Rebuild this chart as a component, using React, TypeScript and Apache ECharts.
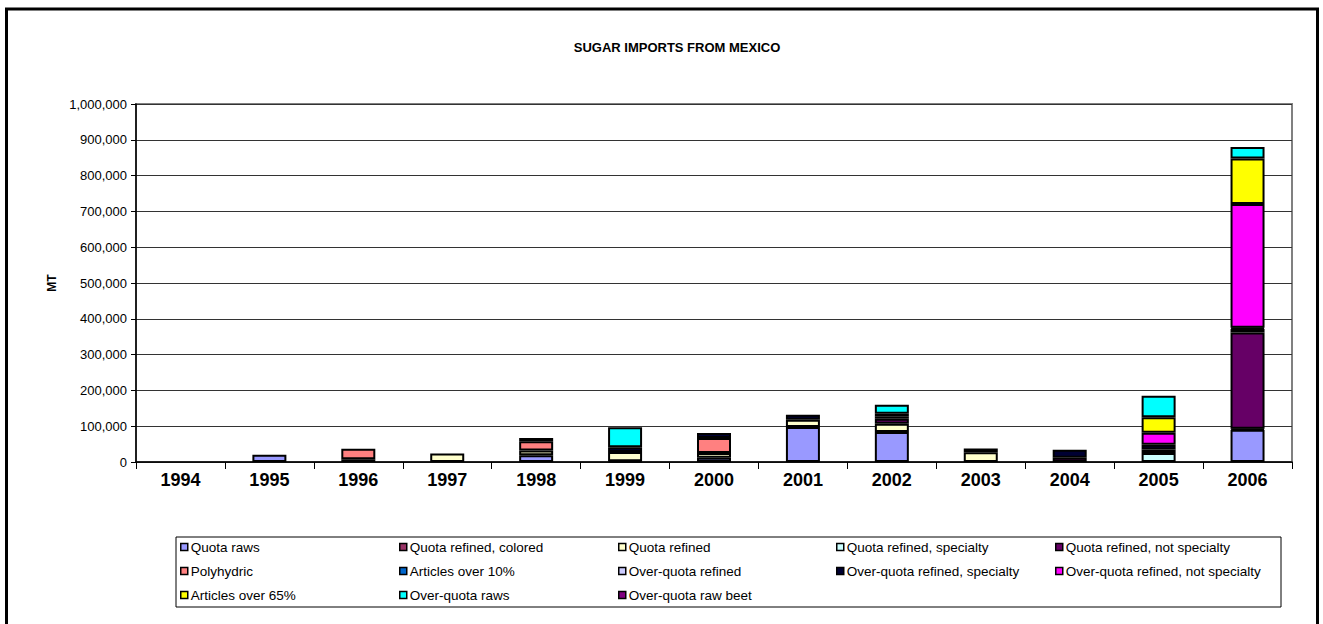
import React, { useEffect, useRef } from "react";
import * as echarts from "echarts";

const years = ["1994", "1995", "1996", "1997", "1998", "1999", "2000", "2001", "2002", "2003", "2004", "2005", "2006"];

const quotaRaws = [0, 20000, 0, 0, 19000, 2000, 12000, 98000, 84000, 0, 0, 0, 90000];
const quotaRefinedColored = [0, 0, 0, 0, 0, 0, 0, 0, 0, 0, 0, 0, 0];
const quotaRefined = [0, 0, 8000, 24000, 13000, 26000, 13000, 20000, 23000, 27000, 0, 0, 3000];
const quotaRefinedSpecialty = [0, 0, 0, 0, 0, 0, 0, 0, 0, 0, 0, 25000, 0];
const quotaRefinedNotSpecialty = [0, 0, 0, 0, 0, 0, 0, 0, 14000, 0, 12000, 10000, 269000];
const polyhydric = [0, 0, 29000, 0, 26000, 0, 42000, 0, 0, 0, 0, 0, 0];
const articlesOver10 = [0, 0, 0, 0, 0, 0, 0, 0, 0, 0, 0, 0, 10000];
const overQuotaRefined = [0, 0, 0, 0, 0, 0, 0, 0, 7000, 0, 0, 0, 0];
const overQuotaRefinedSpecialty = [0, 0, 0, 0, 9000, 13000, 14000, 14000, 7000, 11000, 22000, 13000, 3000];
const overQuotaRefinedNotSpecialty = [0, 0, 0, 0, 0, 0, 0, 0, 0, 0, 0, 34000, 346000];
const articlesOver65 = [0, 0, 0, 0, 0, 0, 0, 0, 0, 0, 0, 43000, 127000];
const overQuotaRaws = [0, 0, 0, 0, 0, 56000, 0, 0, 25000, 0, 0, 60000, 32000];
const overQuotaRawBeet = [0, 0, 0, 0, 0, 0, 0, 0, 0, 0, 0, 0, 0];

const seriesNames = [
  "Quota raws",
  "Quota refined, colored",
  "Quota refined",
  "Quota refined, specialty",
  "Quota refined, not specialty",
  "Polyhydric",
  "Articles over 10%",
  "Over-quota refined",
  "Over-quota refined, specialty",
  "Over-quota refined, not specialty",
  "Articles over 65%",
  "Over-quota raws",
  "Over-quota raw beet",
];
const seriesData = [
  quotaRaws,
  quotaRefinedColored,
  quotaRefined,
  quotaRefinedSpecialty,
  quotaRefinedNotSpecialty,
  polyhydric,
  articlesOver10,
  overQuotaRefined,
  overQuotaRefinedSpecialty,
  overQuotaRefinedNotSpecialty,
  articlesOver65,
  overQuotaRaws,
  overQuotaRawBeet,
];
const seriesColors = [
  "#9999FF",
  "#993366",
  "#FFFFCC",
  "#CCFFFF",
  "#660066",
  "#FF8080",
  "#0066CC",
  "#CCCCFF",
  "#000033",
  "#FF00FF",
  "#FFFF00",
  "#00FFFF",
  "#800080",
];

const legendColumns = [
  [0, 5, 10],
  [1, 6, 11],
  [2, 7, 12],
  [3, 8],
  [4, 9],
];
const legendColumnX = [180, 399, 618, 836, 1055];

const FONT = "Arial, 'Liberation Sans', sans-serif";

export default function App() {
  const ref = useRef<HTMLDivElement>(null);
  useEffect(() => {
    document.body.style.margin = "0";
    if (!ref.current) return;
    const chart = echarts.init(ref.current, null, { renderer: "svg" });
    const option: any = {
      animation: false,
      backgroundColor: "#ffffff",
      title: {
        text: "SUGAR IMPORTS FROM MEXICO",
        left: 672,
        textAlign: "center",
        top: 36,
        textStyle: { fontFamily: FONT, fontSize: 13, fontWeight: "bold", color: "#000" },
      },
      grid: {
        left: 136,
        right: 31,
        top: 104,
        bottom: 162,
        show: true,
        borderColor: "#808080",
        borderWidth: 2,
        backgroundColor: "#ffffff",
      },
      legend: legendColumns.map((col, i) => ({
        orient: "vertical",
        left: legendColumnX[i],
        top: 540,
        itemGap: 10,
        itemWidth: 7,
        itemHeight: 7,
        icon: "rect",
        padding: 0,
        selectedMode: false,
        data: col.map((k) => seriesNames[k]),
        itemStyle: { borderColor: "#000", borderWidth: 1.5 },
        textStyle: { fontFamily: FONT, fontSize: 13.5, color: "#000", padding: [0, 0, 0, -2], lineHeight: 14 },
      })),
      xAxis: {
        type: "category",
        data: years,
        axisLine: { lineStyle: { color: "#000", width: 1.5 } },
        axisTick: { show: true, alignWithLabel: false, length: 7, lineStyle: { color: "#000" } },
        axisLabel: { fontFamily: FONT, fontSize: 18, fontWeight: "bold", color: "#000", margin: 9 },
      },
      yAxis: {
        type: "value",
        min: 0,
        max: 1000000,
        interval: 100000,
        name: "MT",
        nameLocation: "middle",
        nameRotate: 90,
        nameGap: 70,
        nameTextStyle: { fontFamily: FONT, fontSize: 12, fontWeight: "bold", color: "#000" },
        axisLine: { show: true, lineStyle: { color: "#000", width: 1.5 } },
        axisTick: { show: true, length: 5, lineStyle: { color: "#000" } },
        axisLabel: {
          fontFamily: FONT,
          fontSize: 13,
          color: "#000",
          margin: 9,
          formatter: (v: number) => v.toLocaleString("en-US"),
        },
        splitLine: { show: true, lineStyle: { color: "#333333", width: 1 } },
      },
      series: seriesNames.map((name, i) => ({
        name,
        type: "bar",
        stack: "total",
        barWidth: 34,
        data: seriesData[i].map((v) => (v === 0 ? "-" : v)),
        itemStyle: { color: seriesColors[i], borderColor: "#000", borderWidth: 2 },
        emphasis: { disabled: true },
      })),
      graphic: [
        {
          type: "rect",
          shape: { x: 6.5, y: 9, width: 1311, height: 700 },
          style: { fill: "none", stroke: "#000", lineWidth: 3 },
          silent: true,
          z: 100,
        },
        {
          type: "rect",
          shape: { x: 176, y: 537, width: 1105, height: 70 },
          style: { fill: "none", stroke: "#000", lineWidth: 1 },
          silent: true,
          z: 100,
        },
      ],
    };
    chart.setOption(option);
    return () => chart.dispose();
  }, []);
  return <div ref={ref} style={{ width: 1323, height: 624 }} />;
}
